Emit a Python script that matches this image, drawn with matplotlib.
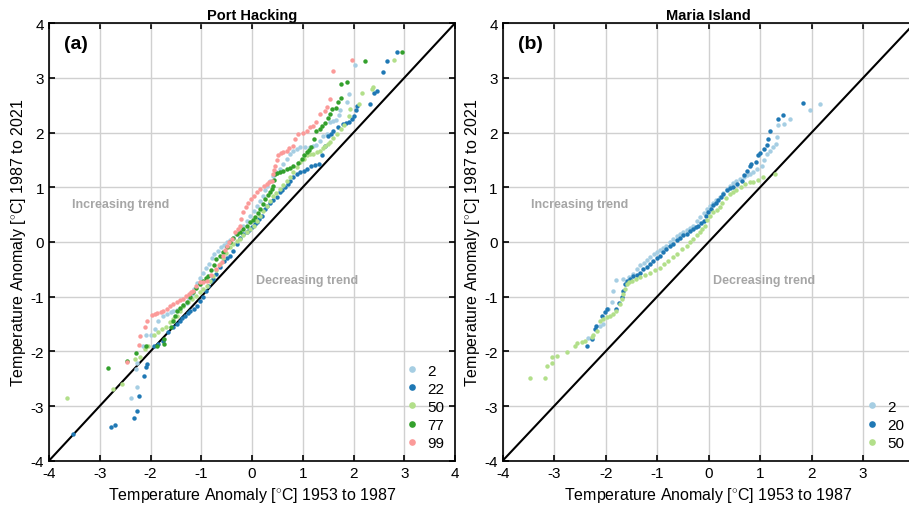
import numpy as np
import matplotlib.pyplot as plt

plt.rcParams['font.family'] = ['Liberation Sans', 'DejaVu Sans']
plt.rcParams['axes.unicode_minus'] = False
plt.rcParams['mathtext.fontset'] = 'custom'
plt.rcParams['mathtext.rm'] = 'Liberation Sans'

# quantiles: x = 1953-1987, y = 1987-2021
# ---- Port Hacking ----
ph_labels = ['2', '22', '50', '77', '99']
ph_colors = ['#a6cee3', '#1f78b4', '#b2df8a', '#33a02c', '#fb9a99']

ph2_x = [-2.38, -2.27, -2.29, -2.26, -2.14, -2.08, -1.99, -1.91, -1.85, -1.76, -1.68, -1.60, -1.55, -1.48,
         -1.42, -1.35, -1.29, -1.24, -1.19, -1.14, -1.09, -1.03, -0.97, -0.91, -0.85, -0.79, -0.74, -0.68,
         -0.62, -0.56, -0.50, -0.44, -0.37, -0.31, -0.25, -0.17, -0.10, -0.04, 0.03, 0.09, 0.15, 0.22, 0.26,
         0.29, 0.35, 0.42, 0.48, 0.55, 0.61, 0.68, 0.74, 0.81, 0.88, 0.95, 1.05, 1.14, 1.20, 1.27, 1.33, 1.40,
         1.47, 1.54, 1.60, 1.65, 1.71, 1.73, 1.87, 1.92, 2.02]
ph2_y = [-2.85, -2.66, -2.32, -2.21, -1.90, -1.71, -1.70, -1.59, -1.45, -1.36, -1.32, -1.29, -1.26, -1.24,
         -1.22, -1.18, -1.12, -1.04, -0.96, -0.86, -0.76, -0.66, -0.57, -0.48, -0.40, -0.30, -0.22, -0.16,
         -0.10, -0.05, 0.00, 0.03, 0.07, 0.15, 0.22, 0.30, 0.39, 0.48, 0.57, 0.66, 0.75, 0.84, 0.94,
         1.03, 1.12, 1.21, 1.27, 1.33, 1.42, 1.52, 1.60, 1.67, 1.70, 1.73, 1.73, 1.74, 1.75, 1.78, 1.85, 1.94,
         1.97, 2.20, 2.21, 2.23, 2.32, 2.41, 2.55, 2.70, 3.23]

ph22_x = [-3.53, -2.78, -2.69, -2.33, -2.27, -2.23, -2.12, -2.09, -2.07, -1.94, -1.85, -1.75, -1.65, -1.55,
          -1.48, -1.42, -1.37, -1.32, -1.27, -1.22, -1.15, -1.09, -1.02, -0.96, -0.91, -0.86, -0.80, -0.76,
          -0.70, -0.63, -0.56, -0.50, -0.43, -0.37, -0.30, -0.24, -0.17, -0.10, -0.05, -0.01, 0.05, 0.09,
          0.14, 0.19, 0.26, 0.30, 0.35, 0.42, 0.49, 0.55, 0.60, 0.65, 0.70, 0.75, 0.81, 0.88, 0.95, 1.02,
          1.08, 1.17, 1.24, 1.31, 1.37, 1.44, 1.50, 1.55, 1.60, 1.70, 1.80, 1.86, 1.92, 1.96, 2.00, 2.04,
          2.06, 2.33, 2.40, 2.46, 2.59, 2.65, 2.85]
ph22_y = [-3.51, -3.38, -3.34, -3.22, -3.09, -2.82, -2.45, -2.29, -2.23, -1.90, -1.87, -1.81, -1.65, -1.56,
          -1.50, -1.44, -1.40, -1.35, -1.30, -1.26, -1.22, -1.17, -1.08, -1.01, -0.90, -0.80, -0.72, -0.68,
          -0.58, -0.46, -0.35, -0.30, -0.25, -0.16, -0.04, 0.08, 0.14, 0.18, 0.22, 0.27, 0.32, 0.36,
          0.42, 0.48, 0.60, 0.66, 0.72, 0.77, 0.82, 0.91, 0.95, 1.00, 1.06, 1.12, 1.18, 1.24, 1.27, 1.30,
          1.33, 1.39, 1.41, 1.42, 1.58, 1.76, 1.94, 1.98, 2.03, 2.10, 2.16, 2.18, 2.20, 2.25, 2.31, 2.42,
          2.48, 2.52, 2.72, 2.76, 3.11, 3.31, 3.47]

ph50_x = [-3.64, -2.73, -2.56, -2.31, -2.21, -2.10, -2.04, -1.94, -1.85, -1.77, -1.70, -1.62, -1.55, -1.48,
          -1.41, -1.35, -1.27, -1.19, -1.11, -1.03, -0.96, -0.89, -0.82, -0.76, -0.70, -0.64, -0.58, -0.51,
          -0.44, -0.37, -0.30, -0.24, -0.17, -0.10, -0.03, 0.03, 0.10, 0.16, 0.22, 0.29, 0.35, 0.42, 0.48,
          0.55, 0.61, 0.68, 0.74, 0.81, 0.88, 0.95, 1.02, 1.08, 1.15, 1.21, 1.28, 1.34, 1.39, 1.44, 1.49,
          1.54, 1.60, 1.67, 1.75, 1.82, 1.91, 1.93, 2.10, 2.17, 2.36, 2.39, 2.80]
ph50_y = [-2.85, -2.69, -2.59, -2.14, -2.10, -1.95, -1.91, -1.70, -1.64, -1.60, -1.55, -1.47, -1.41, -1.35,
          -1.26, -1.17, -1.10, -1.04, -0.98, -0.92, -0.86, -0.80, -0.71, -0.62, -0.52, -0.41, -0.30, -0.20,
          -0.10, -0.03, 0.02, 0.06, 0.12, 0.18, 0.24, 0.30, 0.39, 0.48, 0.57, 0.66, 0.75, 0.84, 0.90,
          0.97, 1.04, 1.12, 1.19, 1.27, 1.37, 1.46, 1.52, 1.58, 1.60, 1.61, 1.64, 1.67, 1.72, 1.76, 1.79,
          1.82, 1.90, 1.97, 2.06, 2.14, 2.30, 2.43, 2.52, 2.72, 2.80, 2.83, 3.33]

ph77_x = [-2.84, -2.47, -2.29, -2.08, -1.88, -1.73, -1.73, -1.60, -1.55, -1.52, -1.48, -1.42, -1.35, -1.29,
          -1.22, -1.16, -1.10, -1.03, -0.96, -0.91, -0.86, -0.80, -0.75, -0.70, -0.63, -0.57, -0.50, -0.43,
          -0.37, -0.30, -0.24, -0.17, -0.10, -0.04, 0.01, 0.06, 0.11, 0.16, 0.21, 0.26, 0.31, 0.35, 0.39,
          0.42, 0.44, 0.45, 0.50, 0.55, 0.62, 0.68, 0.75, 0.81, 0.90, 0.98, 1.03, 1.08, 1.13, 1.17, 1.22,
          1.27, 1.34, 1.37, 1.44, 1.50, 1.54, 1.57, 1.65, 1.70, 1.75, 1.75, 1.88, 2.23, 2.96]
ph77_y = [-2.31, -2.17, -2.03, -1.91, -1.90, -1.86, -1.78, -1.55, -1.45, -1.35, -1.26, -1.20, -1.15, -1.10,
          -1.01, -0.92, -0.84, -0.77, -0.71, -0.66, -0.62, -0.52, -0.42, -0.31, -0.25, -0.19, -0.10, -0.01,
          0.07, 0.14, 0.19, 0.24, 0.30, 0.36, 0.40, 0.45, 0.52, 0.60, 0.70, 0.79, 0.85, 0.91, 0.97,
          1.03, 1.13, 1.24, 1.26, 1.27, 1.30, 1.33, 1.36, 1.39, 1.45, 1.52, 1.58, 1.64, 1.68, 1.73, 1.88,
          2.03, 2.06, 2.12, 2.18, 2.27, 2.34, 2.43, 2.45, 2.55, 2.64, 2.89, 2.92, 3.30, 3.48]

ph99_x = [-2.47, -2.23, -2.21, -2.11, -2.06, -1.98, -1.92, -1.88, -1.80, -1.75, -1.68, -1.62, -1.55, -1.48,
          -1.41, -1.35, -1.30, -1.25, -1.20, -1.16, -1.10, -1.03, -0.96, -0.89, -0.80, -0.70, -0.65, -0.60,
          -0.57, -0.53, -0.50, -0.45, -0.40, -0.33, -0.28, -0.24, -0.21, -0.17, -0.12, -0.07, -0.02, 0.03,
          0.10, 0.16, 0.23, 0.29, 0.34, 0.39, 0.42, 0.44, 0.45, 0.49, 0.52, 0.57, 0.62, 0.68, 0.72, 0.81,
          0.85, 0.91, 1.00, 1.08, 1.14, 1.20, 1.27, 1.34, 1.44, 1.47, 1.54, 1.60, 1.96]
ph99_y = [-2.19, -1.89, -1.72, -1.56, -1.44, -1.34, -1.32, -1.30, -1.29, -1.27, -1.22, -1.17, -1.14, -1.10,
          -1.07, -1.04, -0.99, -0.95, -0.92, -0.89, -0.80, -0.74, -0.73, -0.71, -0.60, -0.50, -0.43, -0.37,
          -0.25, -0.15, -0.07, 0.00, 0.06, 0.18, 0.24, 0.30, 0.42, 0.54, 0.63, 0.72, 0.78, 0.84,
          0.91, 0.97, 1.02, 1.06, 1.09, 1.12, 1.24, 1.32, 1.39, 1.50, 1.58, 1.62, 1.65, 1.67, 1.71, 1.76,
          1.88, 1.97, 2.00, 2.03, 2.10, 2.12, 2.19, 2.34, 2.40, 2.46, 2.61, 3.13, 3.33]

# ---- Maria Island ----
mi_labels = ['2', '20', '50']
mi_colors = ['#a6cee3', '#1f78b4', '#b2df8a']

mi2_x = [-2.35, -2.11, -2.05, -1.95, -1.88, -1.85, -1.79, -1.66, -1.55, -1.46, -1.40, -1.33, -1.26, -1.20,
         -1.14, -1.07, -1.01, -0.95, -0.88, -0.82, -0.75, -0.69, -0.62, -0.55, -0.49, -0.43, -0.36, -0.30,
         -0.23, -0.17, -0.10, -0.04, 0.03, 0.09, 0.15, 0.22, 0.28, 0.35, 0.42, 0.48, 0.54, 0.61, 0.68, 0.74,
         0.80, 0.87, 0.93, 1.03, 1.08, 1.13, 1.19, 1.24, 1.31, 1.32, 1.35, 1.47, 1.57, 1.97, 2.16]
mi2_y = [-1.76, -1.53, -1.50, -1.23, -1.10, -0.89, -0.69, -0.68, -0.64, -0.58, -0.50, -0.43, -0.38, -0.33,
         -0.28, -0.23, -0.19, -0.15, -0.11, -0.07, -0.01, 0.06, 0.10, 0.14, 0.18, 0.22, 0.26, 0.30,
         0.38, 0.45, 0.52, 0.60, 0.66, 0.72, 0.77, 0.82, 0.90, 0.97, 1.03, 1.07, 1.11, 1.15, 1.19, 1.22,
         1.24, 1.28, 1.33, 1.38, 1.50, 1.61, 1.66, 1.73, 1.79, 1.91, 2.14, 2.16, 2.25, 2.41, 2.53]

mi20_x = [-2.37, -2.27, -2.21, -2.18, -2.08, -2.01, -1.98, -1.79, -1.74, -1.69, -1.66, -1.63, -1.58, -1.53,
          -1.46, -1.40, -1.33, -1.27, -1.20, -1.14, -1.08, -1.01, -0.95, -0.88, -0.82, -0.75, -0.69, -0.62,
          -0.56, -0.49, -0.43, -0.36, -0.30, -0.25, -0.20, -0.15, -0.10, -0.05, -0.01, 0.04, 0.09, 0.14,
          0.19, 0.24, 0.28, 0.35, 0.42, 0.48, 0.56, 0.64, 0.69, 0.74, 0.80, 0.83, 0.91, 0.96, 1.00, 1.07,
          1.14, 1.16, 1.19, 1.34, 1.45, 1.83]
mi20_y = [-1.91, -1.78, -1.59, -1.53, -1.35, -1.29, -1.23, -1.22, -1.12, -1.01, -0.89, -0.77, -0.72, -0.68,
          -0.62, -0.60, -0.56, -0.50, -0.45, -0.40, -0.34, -0.29, -0.25, -0.19, -0.13, -0.08, -0.03, 0.03,
          0.08, 0.12, 0.15, 0.20, 0.24, 0.27, 0.30, 0.35, 0.39, 0.47, 0.54, 0.60, 0.67, 0.71,
          0.76, 0.82, 0.88, 0.95, 0.98, 1.00, 1.06, 1.12, 1.22, 1.30, 1.38, 1.42, 1.47, 1.58, 1.63, 1.69,
          1.77, 1.89, 2.03, 2.25, 2.32, 2.54]

mi50_x = [-3.47, -3.18, -3.13, -3.05, -3.05, -2.94, -2.76, -2.60, -2.56, -2.46, -2.40, -2.27, -2.24, -2.17,
          -2.11, -2.05, -1.98, -1.92, -1.85, -1.79, -1.72, -1.69, -1.66, -1.63, -1.59, -1.54, -1.49, -1.41,
          -1.33, -1.24, -1.14, -1.05, -0.95, -0.87, -0.78, -0.70, -0.62, -0.52, -0.43, -0.36, -0.30, -0.23,
          -0.17, -0.12, -0.08, -0.04, 0.02, 0.09, 0.16, 0.22, 0.25, 0.33, 0.41, 0.48, 0.54, 0.62, 0.70,
          0.80, 0.87, 0.96, 1.06, 1.28]
mi50_y = [-2.49, -2.49, -2.26, -2.22, -2.11, -2.08, -2.01, -1.91, -1.84, -1.83, -1.82, -1.74, -1.71, -1.62,
          -1.45, -1.41, -1.38, -1.35, -1.32, -1.26, -1.13, -1.04, -0.95, -0.86, -0.77, -0.74, -0.71, -0.68,
          -0.65, -0.61, -0.56, -0.52, -0.47, -0.41, -0.35, -0.28, -0.22, -0.13, -0.07, -0.01, 0.06, 0.12,
          0.18, 0.24, 0.30, 0.40, 0.47, 0.54, 0.59, 0.63, 0.71, 0.80, 0.88, 0.92, 0.95, 1.00, 1.05,
          1.09, 1.10, 1.14, 1.18, 1.24]

ph_series = [(ph2_x, ph2_y), (ph22_x, ph22_y), (ph50_x, ph50_y), (ph77_x, ph77_y), (ph99_x, ph99_y)]
mi_series = [(mi2_x, mi2_y), (mi20_x, mi20_y), (mi50_x, mi50_y)]


def panel(ax, series, labels, colors, title, tag, inc_x, xmax_tick):
    ax.grid(True, color='#d0d0d0', lw=1.0)
    ax.set_axisbelow(True)
    ax.plot([-4, 4], [-4, 4], color='k', lw=1.5, zorder=2)
    for (x, y), lab, c in zip(series, labels, colors):
        ax.plot(x, y, 'o', ms=3.2, mec='none', color=c, label=lab, zorder=3)
    ax.set_xlim(-4, 4)
    ax.set_ylim(-4, 4)
    ax.set_xticks(np.arange(-4, xmax_tick + 1))
    ax.set_yticks(np.arange(-4, 5))
    ax.tick_params(direction='in', top=True, right=True, labelsize=11, length=4, width=1.2)
    for s in ax.spines.values():
        s.set_linewidth(1.2)
    ax.set_title(title, fontsize=10.5, fontweight='bold', pad=3)
    ax.set_xlabel(r'Temperature Anomaly [$^{\circ}$C] 1953 to 1987', fontsize=11.5, labelpad=4)
    ax.set_ylabel(r'Temperature Anomaly [$^{\circ}$C] 1987 to 2021', fontsize=11.5, labelpad=2)
    ax.text(-3.7, 3.62, tag, fontsize=14, fontweight='bold', va='center')
    ax.text(inc_x, 0.7, 'Increasing trend', color='#a6a6a6', fontsize=9, fontweight='bold', va='center')
    ax.text(0.08, -0.7, 'Decreasing trend', color='#a6a6a6', fontsize=9, fontweight='bold', va='center')
    ax.legend(loc='lower right', frameon=False, fontsize=11, markerscale=1.5,
              handletextpad=0.4, labelspacing=0.27, borderaxespad=0.3, handlelength=1.2)


fig = plt.figure(figsize=(9.09, 5.10), dpi=100)
ax1 = fig.add_axes([0.0539, 0.0947, 0.4467, 0.858])
ax2 = fig.add_axes([0.553, 0.0947, 0.4532, 0.858])
panel(ax1, ph_series, ph_labels, ph_colors, 'Port Hacking', '(a)', -3.55, 4)
panel(ax2, mi_series, mi_labels, mi_colors, 'Maria Island', '(b)', -3.45, 3)

fig.savefig('out.png', dpi=100)
